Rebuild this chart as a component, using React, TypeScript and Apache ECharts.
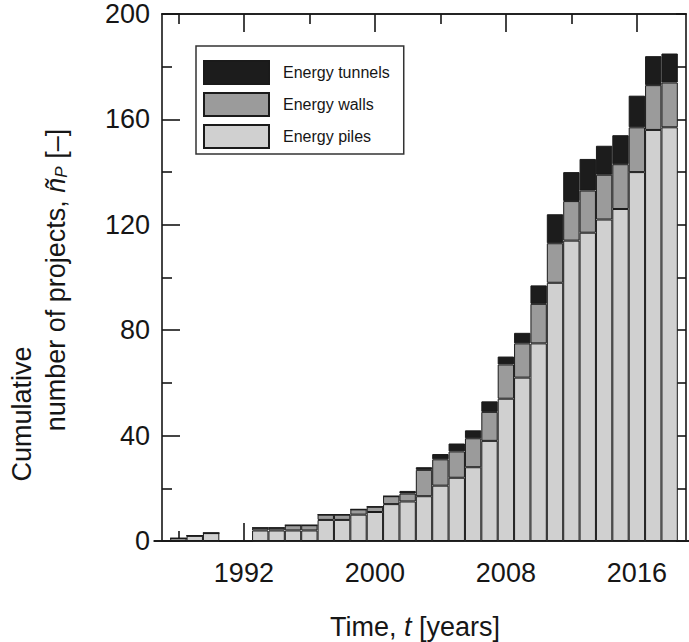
import React, { useEffect, useRef } from "react";
import * as echarts from "echarts";

// ---- data ----
const years: number[] = [
  1987, 1988, 1989, 1990, 1991, 1992, 1993, 1994, 1995, 1996, 1997, 1998, 1999, 2000, 2001, 2002,
  2003, 2004, 2005, 2006, 2007, 2008, 2009, 2010, 2011, 2012, 2013, 2014, 2015, 2016, 2017, 2018,
];
const pilesValues: number[] = [
  0, 1, 2, 3, 0, 0, 4, 4, 4, 4, 8, 8, 10, 11, 14, 15,
  17, 21, 24, 28, 38, 54, 62, 75, 98, 114, 117, 122, 126, 140, 156, 157,
];
const wallsValues: number[] = [
  0, 0, 0, 0, 0, 0, 1, 1, 2, 2, 2, 2, 2, 2, 3, 3,
  10, 10, 10, 11, 11, 13, 13, 15, 15, 15, 16, 17, 17, 17, 17, 17,
];
const tunnelsValues: number[] = [
  0, 0, 0, 0, 0, 0, 0, 0, 0, 0, 0, 0, 0, 0, 0, 1,
  1, 2, 3, 3, 4, 3, 4, 7, 11, 11, 12, 11, 11, 12, 11, 11,
];
const seriesNames = ["Energy piles", "Energy walls", "Energy tunnels"];
const legendOrder = ["Energy tunnels", "Energy walls", "Energy piles"];
const xMajorTicks: number[] = [1992, 2000, 2008, 2016];
const xMinorTicks: number[] = [1988, 1996, 2004, 2012];
const xRange = [1987, 2019];
const yRange = [0, 200];
const yLabelStep = 40;
const yRightTickStep = 20;
const yTitleLine1 = "Cumulative";
const yTitleLine2 = "number of projects, {it|ñ}{sub|P} [–]";
const xTitle = "Time, {it|t} [years]";

const FONT = "'Liberation Sans', Arial, Helvetica, sans-serif";
const INK = "#161616";

export default function App() {
  const ref = useRef<HTMLDivElement>(null);

  useEffect(() => {
    if (!ref.current) return;
    const chart = echarts.init(ref.current, null, { renderer: "svg" });

    // bar positions: one category per year, axis running from xRange[0] to xRange[1]
    const categories: string[] = [];
    for (let y = xRange[0]; y <= xRange[1]; y++) categories.push(String(y));
    const valueAt = (values: number[]) =>
      categories.map((c) => {
        const i = years.indexOf(Number(c));
        return i >= 0 ? values[i] : 0;
      });

    const axisLine = { show: true, onZero: false, lineStyle: { color: INK, width: 1.6 } };
    const tickStyle = { color: INK, width: 1.6 };
    const xCommon = {
      type: "value",
      min: xRange[0],
      max: xRange[1],
      splitLine: { show: false },
      axisLine,
    };

    const mkSeries = (name: string, values: number[], color: string) => ({
      name,
      type: "bar",
      stack: "total",
      xAxisIndex: 0,
      yAxisIndex: 0,
      barWidth: "100%",
      itemStyle: { color, borderColor: "#1a1a1a", borderWidth: 1 },
      emphasis: { disabled: true },
      data: valueAt(values),
    });

    const option: any = {
      animation: false,
      backgroundColor: "#ffffff",
      textStyle: { fontFamily: FONT, color: INK },
      grid: { left: 162, right: 3, top: 14, bottom: 101, containLabel: false },
      legend: {
        show: true,
        orient: "vertical",
        left: 196,
        top: 46,
        padding: [14, 14, 5, 7],
        itemWidth: 65,
        itemHeight: 23,
        itemGap: 7,
        borderColor: "#333",
        borderWidth: 1.5,
        borderRadius: 0,
        backgroundColor: "#fff",
        icon: "rect",
        selectedMode: false,
        data: legendOrder,
        textStyle: { fontSize: 16, color: INK, fontFamily: FONT, padding: [0, 0, 0, 9] },
      },
      xAxis: [
        {
          type: "category",
          data: categories,
          boundaryGap: false,
          position: "bottom",
          axisLine: { show: false },
          axisTick: { show: false },
          axisLabel: { show: false },
          splitLine: { show: false },
        },
        {
          ...xCommon,
          position: "bottom",
          axisTick: { show: true, inside: true, length: 18, lineStyle: tickStyle, customValues: xMajorTicks },
          axisLabel: {
            show: true,
            customValues: xMajorTicks,
            fontSize: 27,
            color: INK,
            fontFamily: FONT,
            margin: 18,
            formatter: (v: number) => String(v),
          },
        },
        {
          ...xCommon,
          position: "bottom",
          axisTick: { show: true, inside: true, length: 10, lineStyle: tickStyle, customValues: xMinorTicks },
          axisLabel: { show: false },
        },
        {
          ...xCommon,
          position: "top",
          axisTick: { show: true, inside: true, length: 18, lineStyle: tickStyle, customValues: xMajorTicks },
          axisLabel: { show: false },
        },
        {
          ...xCommon,
          position: "top",
          axisTick: { show: true, inside: true, length: 10, lineStyle: tickStyle, customValues: xMinorTicks },
          axisLabel: { show: false },
        },
      ],
      yAxis: [
        {
          type: "value",
          position: "left",
          min: yRange[0],
          max: yRange[1],
          interval: yLabelStep,
          splitLine: { show: false },
          axisLine,
          axisTick: { show: true, inside: true, length: 18, lineStyle: tickStyle },
          minorTick: { show: true, splitNumber: 2, length: 10, lineStyle: tickStyle },
          axisLabel: { show: true, fontSize: 27, color: INK, fontFamily: FONT, margin: 12 },
        },
        {
          type: "value",
          position: "right",
          min: yRange[0],
          max: yRange[1],
          interval: yRightTickStep,
          splitLine: { show: false },
          axisLine,
          axisTick: { show: true, inside: true, length: 10, lineStyle: tickStyle },
          axisLabel: { show: false },
        },
      ],
      graphic: [
        {
          type: "text",
          x: 22,
          y: 414,
          rotation: Math.PI / 2,
          silent: true,
          style: {
            text: yTitleLine1,
            fontSize: 27,
            fontFamily: FONT,
            fill: INK,
            textAlign: "center",
            textVerticalAlign: "middle",
          },
        },
        {
          type: "text",
          x: 56,
          y: 280,
          rotation: Math.PI / 2,
          silent: true,
          style: {
            text: yTitleLine2,
            fontSize: 27,
            fontFamily: FONT,
            fill: INK,
            textAlign: "center",
            textVerticalAlign: "middle",
            rich: {
              it: { fontSize: 27, fontStyle: "italic", fontFamily: FONT, fill: INK },
              sub: { fontSize: 17, fontStyle: "italic", fontFamily: FONT, fill: INK, verticalAlign: "bottom" },
            },
          },
        },
        {
          type: "text",
          x: 415,
          y: 627,
          silent: true,
          style: {
            text: xTitle,
            fontSize: 27,
            fontFamily: FONT,
            fill: INK,
            textAlign: "center",
            textVerticalAlign: "middle",
            rich: {
              it: { fontSize: 27, fontStyle: "italic", fontFamily: FONT, fill: INK },
            },
          },
        },
      ],
      series: [
        mkSeries(seriesNames[0], pilesValues, "#d0d0d0"),
        mkSeries(seriesNames[1], wallsValues, "#9b9b9b"),
        mkSeries(seriesNames[2], tunnelsValues, "#1c1c1c"),
      ],
    };

    chart.setOption(option);
    return () => {
      chart.dispose();
    };
  }, []);

  return (
    <div
      ref={ref}
      style={{ position: "fixed", left: 0, top: 0, width: 689, height: 642, background: "#fff" }}
    />
  );
}
